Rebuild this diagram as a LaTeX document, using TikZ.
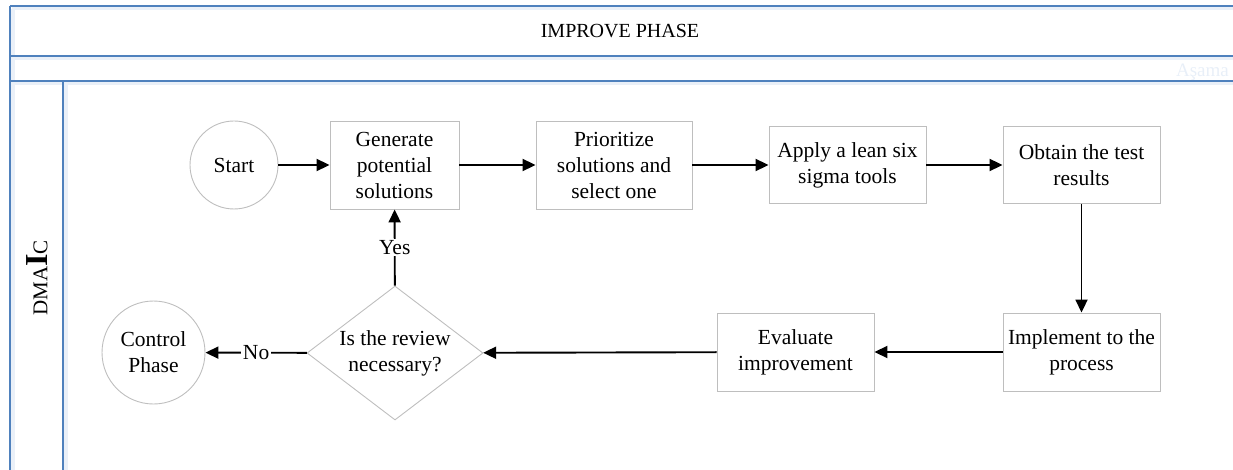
\documentclass[tikz,border=0pt]{standalone}
\usepackage{fontspec}
\setmainfont{Liberation Serif}
\usetikzlibrary{arrows.meta,shapes.geometric}
\definecolor{laneblue}{RGB}{79,129,189}
\definecolor{laneglow}{RGB}{234,240,248}
\definecolor{boxgray}{RGB}{190,190,190}
\definecolor{faint}{RGB}{232,239,248}
\begin{document}
\begin{tikzpicture}[x=1pt,y=-1pt,
  txt/.style={align=center,font=\fontsize{21.5}{26}\selectfont,inner sep=0pt},
  box/.style={txt,draw=boxgray,line width=0.9pt,minimum width=157pt,minimum height=78pt},
  term/.style={txt,draw=boxgray,line width=0.9pt,circle},
  lane/.style={draw=laneblue,line width=1.6pt},
  glowline/.style={draw=laneglow,line width=4pt},
  arr/.style={line width=1.9pt,-{Triangle[length=13pt,width=12pt]}},
  lbl/.style={txt,fill=white,inner sep=1.5pt}]
\useasboundingbox (0,0) rectangle (1233,470);
\clip (0,0) rectangle (1233,470);
% glow
\foreach \yy in {8.5,58.5,83.5} {\draw[glowline] (12,\yy) -- (1240,\yy);}
\draw[glowline] (12.5,9) -- (12.5,475);
\draw[glowline] (65.5,84) -- (65.5,475);
% lanes
\draw[lane] (10,6) -- (1240,6);
\draw[lane] (10,56) -- (1240,56);
\draw[lane] (10,81) -- (1240,81);
\draw[lane] (10,6) -- (10,475);
\draw[lane] (63,81) -- (63,475);
\node[font=\fontsize{20}{24}\selectfont] (title) at (620,31) {IMPROVE PHASE};
\node[anchor=base east,text=faint,font=\fontsize{19}{22}\selectfont,inner sep=0pt] (watermark) at (1229,77) {Aşama};
\node[rotate=90,inner sep=0pt] (dmaic) at (37,278) {{\fontsize{21}{24}\selectfont DMA}{\fontsize{32}{34}\selectfont\bfseries I}{\fontsize{21}{24}\selectfont C}};
% flow nodes
\node[term,minimum size=88pt] (start) at (234,165) {Start};
\node[box,minimum width=129pt,minimum height=88pt] (gen) at (394.5,165) {Generate\\potential\\solutions};
\node[box,minimum width=156pt,minimum height=88pt] (prio) at (614,165) {Prioritize\\solutions and\\select one};
\node[box,minimum height=77pt] (apply) at (847.5,165) {Apply a lean six\\sigma tools};
\node[box,minimum height=77pt] (obtain) at (1081.5,165) {Obtain the test\\results};
\node[box] (impl) at (1081.5,352) {Implement to the\\process};
\node[box] (eval) at (795.5,352) {Evaluate\\improvement};
\node[diamond,draw=boxgray,line width=0.9pt,minimum width=176pt,minimum height=134pt,inner sep=0pt] (dec) at (395,353) {};
\node[txt] (dectext) at (dec.center) {Is the review\\necessary?};
\node[term,minimum size=103pt] (ctrl) at (153.5,352.5) {Control\\Phase};
% connectors
\draw[arr] (start) -- (gen);
\draw[arr] (gen) -- (prio);
\draw[arr] (prio) -- (apply);
\draw[arr] (apply) -- (obtain);
\draw[arr] (obtain) -- (impl);
\draw[arr] (impl) -- (eval);
\draw[arr] (eval) -- (dec);
\draw[arr] (dec) -- node[lbl] {No} (ctrl);
\draw[arr] (dec) -- node[lbl] {Yes} (gen);
\end{tikzpicture}
\end{document}
